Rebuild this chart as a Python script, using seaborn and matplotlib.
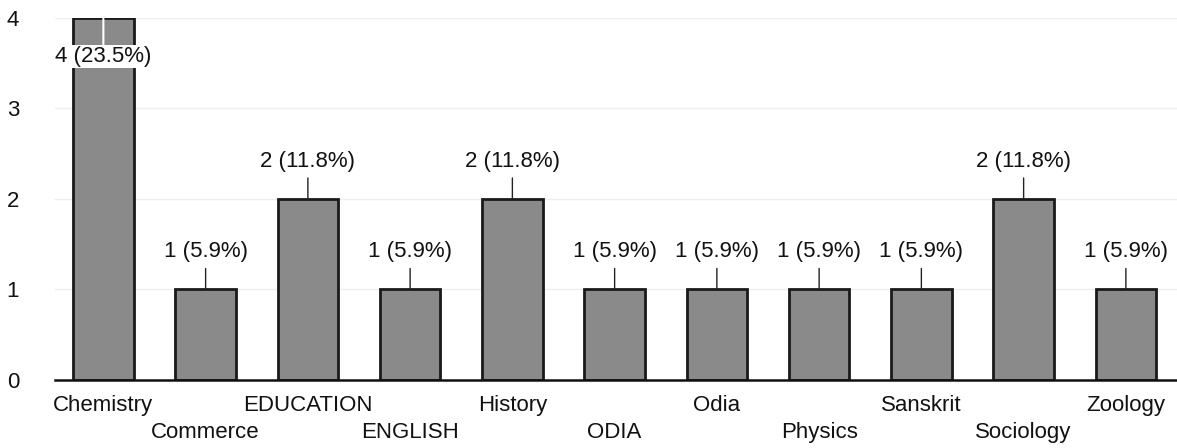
import numpy as np
import pandas as pd
import seaborn as sns
import matplotlib.pyplot as plt

subjects = ['Chemistry', 'Commerce', 'EDUCATION', 'ENGLISH', 'History', 'ODIA',
            'Odia', 'Physics', 'Sanskrit', 'Sociology', 'Zoology']
counts = [4, 1, 2, 1, 2, 1, 1, 1, 1, 2, 1]
pct_labels = ['23.5%', '5.9%', '11.8%', '5.9%', '11.8%', '5.9%',
              '5.9%', '5.9%', '5.9%', '11.8%', '5.9%']

df = pd.DataFrame({'subject': subjects, 'count': counts})

sns.set_theme(style='white')
plt.rcParams['font.family'] = ['Liberation Sans', 'DejaVu Sans']

fig, ax = plt.subplots(figsize=(11.77, 4.48), dpi=100)
sns.barplot(data=df, x='subject', y='count', color='#8a8a8a', width=0.59,
            edgecolor='#1a1a1a', linewidth=2, saturation=1, ax=ax)

ax.set_ylim(0, 4)
ax.set_xlim(-0.47, 10.5)
ax.set_yticks([0, 1, 2, 3, 4])
ax.yaxis.grid(True, color='#efefef', linewidth=1)
ax.set_axisbelow(True)
ax.tick_params(axis='y', labelsize=16, length=0, pad=26, labelcolor='#111111')
ax.tick_params(axis='x', length=0, labelsize=16, pad=11, labelcolor='#111111')
ax.set_xlabel('')
ax.set_ylabel('')
for s in ['top', 'right', 'left']:
    ax.spines[s].set_visible(False)
ax.spines['bottom'].set_color('#111111')
ax.spines['bottom'].set_linewidth(1.8)

# staggered category labels
ax.set_xticks(range(len(subjects)))
ax.set_xticklabels(subjects)
for i, lab in enumerate(ax.get_xticklabels()):
    lab.set_y(0 if i % 2 == 0 else -0.075)

for i, (c, p) in enumerate(zip(counts, pct_labels)):
    txt = f'{c} ({p})'
    if c == max(counts):
        ax.annotate(txt, xy=(i, c), xytext=(0, -28), textcoords='offset points',
                    ha='center', va='center', fontsize=16, color='#111111',
                    bbox=dict(boxstyle='square,pad=0.05', fc='white', ec='none'),
                    arrowprops=dict(arrowstyle='-', color='white', lw=1.5,
                                    shrinkA=0, shrinkB=0))
    else:
        ax.annotate(txt, xy=(i, c), xytext=(0, 27), textcoords='offset points',
                    ha='center', va='center', fontsize=16, color='#111111',
                    arrowprops=dict(arrowstyle='-', color='#222222', lw=1,
                                    shrinkA=2, shrinkB=0))

plt.subplots_adjust(left=0.047, right=1.0, top=0.96, bottom=0.152)
plt.savefig('out.png', dpi=100)
